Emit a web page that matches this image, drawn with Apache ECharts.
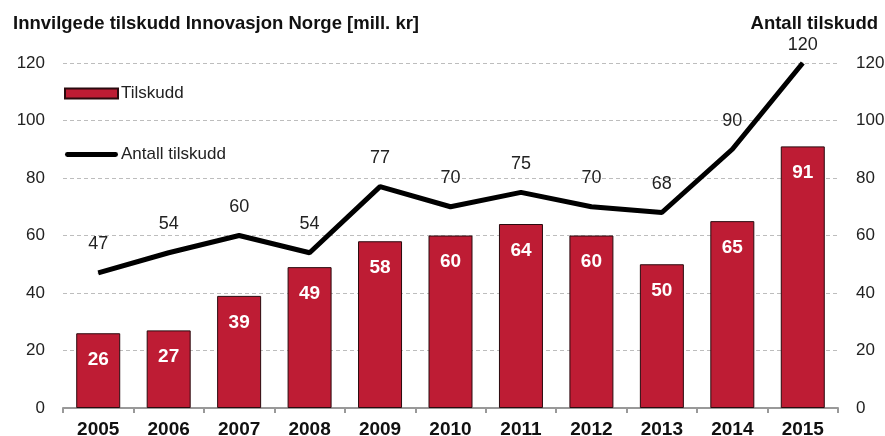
<!DOCTYPE html>
<html>
<head>
<meta charset="utf-8">
<script src="https://cdn.jsdelivr.net/npm/echarts@6/dist/echarts.min.js"></script>
<style>
  html, body { margin: 0; padding: 0; background: #fff; }
  #chart { width: 885px; height: 436px; }
</style>
</head>
<body>
<div id="chart"></div>
<script>
// data
const years = ['2005', '2006', '2007', '2008', '2009', '2010', '2011', '2012', '2013', '2014', '2015']
const tilskudd = [26, 27, 39, 49, 58, 60, 64, 60, 50, 65, 91]
const antall = [47, 54, 60, 54, 77, 70, 75, 70, 68, 90, 120]

const font = 'Liberation Sans, Arial, sans-serif'
const chart = echarts.init(document.getElementById('chart'))

const valueAxis = {
  type: 'value',
  min: 0,
  max: 120,
  interval: 20,
  axisLine: { show: false },
  axisTick: { show: false },
  axisLabel: { fontFamily: font, fontSize: 17, color: '#222', margin: 18 },
  splitLine: { lineStyle: { type: [4, 3], color: '#bdbdbd', width: 1 } },
}

// last label sits closer to the line so it stays under the axis title
const antallData = antall.map((v, i) =>
  i === antall.length - 1 ? { value: v, label: { distance: 8 } } : v
)

const option = {
  animation: false,
  textStyle: { fontFamily: font },
  title: [
    {
      text: 'Innvilgede tilskudd Innovasjon Norge [mill. kr]',
      left: 8,
      top: 9,
      textStyle: { fontFamily: font, fontSize: 18.5, fontWeight: 'bold', color: '#111' },
    },
    {
      text: 'Antall tilskudd',
      right: 2,
      top: 9,
      textStyle: { fontFamily: font, fontSize: 18.5, fontWeight: 'bold', color: '#111' },
    },
  ],
  legend: {
    orient: 'vertical',
    left: 59,
    top: 80,
    itemWidth: 53,
    itemHeight: 10,
    itemGap: 44,
    textStyle: { fontFamily: font, fontSize: 17, color: '#222', padding: [2, 0, 0, -2] },
    data: [
      { name: 'Tilskudd', icon: 'rect' },
      { name: 'Antall tilskudd', icon: 'path://M2,0 L52,0 A2.5,2.5 0 0 1 52,5 L2,5 A2.5,2.5 0 0 1 2,0 Z', itemStyle: { color: '#000', borderWidth: 0 } },
    ],
  },
  grid: { left: 63, right: 47, top: 63, bottom: 28, outerBoundsMode: 'none' },
  xAxis: {
    type: 'category',
    data: years,
    axisLine: { lineStyle: { color: '#999', width: 2 } },
    axisTick: { show: true, length: 5, lineStyle: { color: '#999', width: 2 } },
    axisLabel: { fontFamily: font, fontSize: 19, fontWeight: 'bold', color: '#111', margin: 12 },
  },
  yAxis: [
    Object.assign({}, valueAxis),
    Object.assign({}, valueAxis, { position: 'right' }),
  ],
  series: [
    {
      name: 'Tilskudd',
      type: 'bar',
      data: tilskudd,
      barWidth: 44,
      itemStyle: { color: '#BE1C34', borderColor: '#2a0a0e', borderWidth: 1 },
      label: {
        show: true,
        position: 'insideTop',
        distance: 17,
        color: '#fff',
        fontFamily: font,
        fontSize: 19,
        fontWeight: 'bold',
      },
    },
    {
      name: 'Antall tilskudd',
      type: 'line',
      yAxisIndex: 1,
      data: antallData,
      symbol: 'circle',
      symbolSize: 1,
      showAllSymbol: true,
      lineStyle: { color: '#000', width: 5 },
      itemStyle: { color: '#000' },
      label: {
        show: true,
        position: 'top',
        distance: 19,
        color: '#222',
        fontFamily: font,
        fontSize: 18,
      },
      z: 5,
    },
  ],
}

chart.setOption(option)
</script>
</body>
</html>
